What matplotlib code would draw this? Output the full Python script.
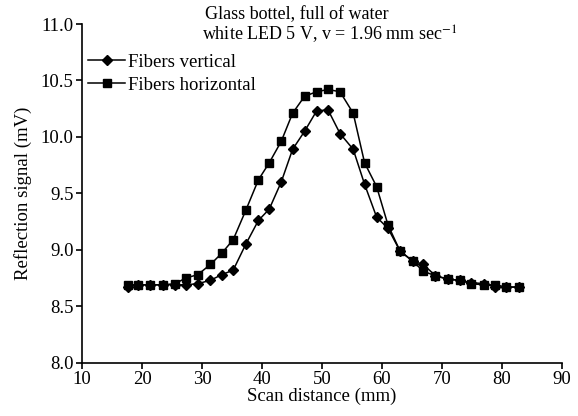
import numpy as np
import matplotlib
matplotlib.use('Agg')
import matplotlib.pyplot as plt
from matplotlib.ticker import FormatStrFormatter

plt.rcParams['font.family'] = ['Liberation Serif', 'DejaVu Serif']
plt.rcParams['mathtext.fontset'] = 'stix'

# scan positions (mm)
dist = [17.6, 19.3, 21.4, 23.5, 25.5, 27.3, 29.3, 31.4, 33.3, 35.2,
        37.3, 39.4, 41.2, 43.2, 45.1, 47.1, 49.1, 51.0, 53.0, 55.2,
        57.1, 59.1, 61.0, 63.0, 65.1, 66.9, 68.9, 71.0, 73.0, 74.8,
        77.0, 78.9, 80.7, 82.9]

# reflection signal (mV)
vertical = [8.67, 8.69, 8.69, 8.69, 8.69, 8.69, 8.70, 8.73, 8.78, 8.82,
            9.05, 9.26, 9.36, 9.60, 9.89, 10.05, 10.23, 10.24, 10.03, 9.89,
            9.58, 9.29, 9.19, 8.99, 8.90, 8.87, 8.77, 8.74, 8.73, 8.71,
            8.70, 8.67, 8.67, 8.67]
horizontal = [8.69, 8.69, 8.69, 8.69, 8.70, 8.75, 8.78, 8.87, 8.97, 9.09,
              9.35, 9.62, 9.77, 9.96, 10.21, 10.36, 10.40, 10.42, 10.40, 10.21,
              9.77, 9.56, 9.22, 8.99, 8.90, 8.81, 8.77, 8.74, 8.73, 8.70,
              8.69, 8.69, 8.67, 8.67]

fs = 13.5

fig = plt.figure(figsize=(5.78, 4.16), dpi=100)
ax = fig.add_axes([0.1419, 0.1281, 0.8304, 0.8142])

ax.plot(dist, vertical, color='black', lw=1.1, marker='D', ms=4.8, label='Fibers vertical')
ax.plot(dist, horizontal, color='black', lw=1.1, marker='s', ms=6.0, label='Fibers horizontal')

ax.set_xlim(10, 90)
ax.set_ylim(8.0, 11.0)
ax.set_xticks(np.arange(10, 91, 10))
ax.set_yticks(np.arange(8.0, 11.01, 0.5))
ax.yaxis.set_major_formatter(FormatStrFormatter('%.1f'))
ax.spines['top'].set_visible(False)
ax.spines['right'].set_visible(False)
for s in ['left', 'bottom']:
    ax.spines[s].set_linewidth(1.2)
ax.tick_params(direction='out', length=4, width=1.2, labelsize=fs, pad=2)

ax.set_xlabel('Scan distance (mm)', fontsize=fs, labelpad=0)
ax.set_ylabel('Reflection signal (mV)', fontsize=fs, labelpad=6)

ax.legend(loc='upper left', bbox_to_anchor=(0.012, 0.912), frameon=False, fontsize=fs,
          handlelength=2.0, handletextpad=0.15, labelspacing=0.3, borderpad=0, borderaxespad=0)

fig.text(0.354, 0.966, 'Glass bottel, full of water', fontsize=13, ha='left', va='center')
fig.text(0.350, 0.918, r'white LED 5 V, v = 1.96 mm sec$^{-1}$', fontsize=13, ha='left', va='center')

fig.savefig('out.png', dpi=100)
